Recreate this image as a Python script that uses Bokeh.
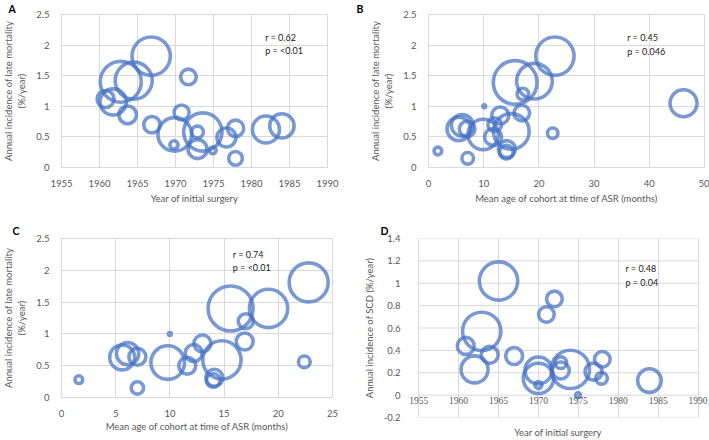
from bokeh.plotting import figure
from bokeh.models import (Range1d, FixedTicker, CustomJSTickFormatter, Label, LabelSet,
                          Title, ColumnDataSource)
from bokeh.layouts import column, row
from bokeh.embed import file_html
from bokeh.resources import INLINE
import numpy as np

# ---------------- data ----------------
# Panel A: year of initial surgery vs annual incidence of late mortality
a_year = [1960.8, 1961.8, 1962.8, 1964.5, 1963.7, 1966.8, 1966.9, 1971.7, 1969.9, 1969.8,
          1970.8, 1973.6, 1972.9, 1972.9, 1974.9, 1976.7, 1977.9, 1977.9, 1981.9, 1984.0]
a_mort = [1.12, 1.07, 1.40, 1.42, 0.86, 1.82, 0.70, 1.48, 0.54, 0.37,
          0.90, 0.58, 0.58, 0.30, 0.28, 0.49, 0.64, 0.15, 0.62, 0.68]
a_size = [72, 173, 420, 342, 78, 367, 67, 61, 283, 17,
          56, 367, 34, 90, 12, 90, 67, 47, 182, 148]

# Panel B: mean age at ASR (months) vs annual incidence of late mortality
b_age = [1.7, 5.5, 6.1, 7.0, 7.1, 10.1, 9.9, 11.7, 12.0, 13.0,
         14.2, 14.1, 15.0, 15.7, 16.9, 17.1, 19.2, 22.5, 22.9, 46.2]
b_mort = [0.27, 0.63, 0.69, 0.63, 0.15, 1.00, 0.54, 0.50, 0.70, 0.85,
          0.30, 0.25, 0.59, 1.39, 0.89, 1.20, 1.41, 0.56, 1.82, 1.05]
b_size = [15, 140, 117, 61, 34, 2, 230, 72, 47, 72,
          72, 47, 318, 477, 61, 34, 318, 27, 367, 182]

# Panel C: mean age at ASR (months) vs annual incidence of late mortality
c_age = [1.6, 5.6, 6.1, 7.0, 7.0, 10.0, 9.8, 11.6, 12.2, 13.0,
         14.1, 14.0, 14.8, 15.6, 16.9, 17.0, 19.1, 22.4, 22.8]
c_mort = [0.28, 0.63, 0.69, 0.64, 0.15, 1.00, 0.55, 0.50, 0.70, 0.85,
          0.31, 0.27, 0.59, 1.40, 0.88, 1.20, 1.40, 0.56, 1.81]
c_size = [15, 156, 125, 72, 38, 2, 283, 72, 72, 72,
          72, 47, 367, 506, 72, 56, 367, 34, 380]

# Panel D: year of initial surgery vs annual incidence of SCD
d_year = [1960.9, 1962.0, 1962.9, 1963.9, 1965.0, 1966.96, 1970.0, 1970.0, 1970.0, 1971.0,
          1972.0, 1972.8, 1972.8, 1974.0, 1974.96, 1976.9, 1978.0, 1977.9, 1983.9]
d_scd = [0.44, 0.23, 0.57, 0.36, 1.02, 0.35, 0.22, 0.15, 0.09, 0.72,
         0.86, 0.29, 0.22, 0.23, 0.00, 0.21, 0.32, 0.15, 0.13]
d_size = [72, 182, 367, 72, 367, 72, 182, 230, 12, 61,
          61, 34, 72, 367, 6, 72, 61, 34, 140]

year_ticks = [1955, 1960, 1965, 1970, 1975, 1980, 1985, 1990]
year_labels = ["1955", "1960", "1965", "1970", "1975", "1980", "1985", "1990"]
age_ticks_b = [0, 10, 20, 30, 40, 50]
age_ticks_c = [0, 5, 10, 15, 20, 25]
mort_ticks = [0, 0.5, 1, 1.5, 2, 2.5]
scd_ticks = [-0.2, 0, 0.2, 0.4, 0.6, 0.8, 1, 1.2, 1.4]

stats = {"A": "r = 0.62\np = <0.01", "B": "r = 0.45\np = 0.046",
         "C": "r = 0.74\np = <0.01", "D": "r = 0.48\np = 0.04"}

# ---------------- style ----------------
FONT = "Lato"
GRID = "#D9D9D9"
TXT = "#595959"
BUBBLE = "#4472C4"
FS = "9.5px"

fmt = CustomJSTickFormatter(code="return tick.toString();")


def style_axis(ax):
    ax.formatter = fmt
    ax.axis_line_color = GRID
    ax.major_tick_line_color = None
    ax.minor_tick_line_color = None
    ax.major_label_text_font = FONT
    ax.major_label_text_font_size = FS
    ax.major_label_text_color = TXT
    ax.axis_label_text_font = FONT
    ax.axis_label_text_font_size = FS
    ax.axis_label_text_font_style = "normal"
    ax.axis_label_text_color = TXT


def make(w, h, xr, yr, xt, yt, xlabel, ylabel, borders):
    l, r, t, b = borders
    p = figure(width=w, height=h, x_range=Range1d(*xr), y_range=Range1d(*yr),
               output_backend="svg", toolbar_location=None,
               min_border_left=l, min_border_right=r, min_border_top=t, min_border_bottom=b)
    p.background_fill_color = "white"
    p.border_fill_color = "white"
    p.outline_line_color = GRID
    p.xgrid.ticker = FixedTicker(ticks=xt)
    p.ygrid.ticker = FixedTicker(ticks=yt)
    p.grid.grid_line_color = GRID
    p.grid.grid_line_width = 1
    p.xaxis.ticker = FixedTicker(ticks=xt)
    p.yaxis.ticker = FixedTicker(ticks=yt)
    style_axis(p.xaxis[0])
    style_axis(p.yaxis[0])
    p.xaxis.axis_label = xlabel
    p.yaxis.axis_label = ylabel
    p.xaxis.major_label_standoff = 6
    p.xaxis.axis_label_standoff = 3
    p.yaxis.major_label_standoff = 6
    p.yaxis.axis_label_standoff = 6
    return p


def bubbles(p, xs, ys, ss):
    diam = [2 * np.sqrt(s) for s in ss]
    p.scatter(xs, ys, size=diam, marker="circle", fill_color=None,
              line_color=BUBBLE, line_alpha=0.72, line_width=3.6)


def annotate(p, letter, loff, lstand, sx, sy):
    p.add_layout(Title(text=letter, align="left", offset=loff, standoff=lstand,
                       text_font=FONT, text_font_style="bold", text_font_size="10.5px",
                       text_color="black"), "above")
    p.add_layout(Label(x=sx, y=sy, text=stats[letter], text_font=FONT,
                       text_font_size="9px", text_color="#1a1a1a",
                       text_baseline="top", text_align="left", text_line_height=1.25))


mort_label = "Annual incidence of late mortality\n(%/year)"

pa = make(354, 220, (1955, 1990), (0, 2.5), year_ticks, mort_ticks,
          "Year of initial surgery", mort_label, (54, 27, 10, 53))
bubbles(pa, a_year, a_mort, a_size)
annotate(pa, "A", -53, 0, 1981.8, 2.22)

pb = make(355, 220, (0, 50), (0, 2.5), age_ticks_b, mort_ticks,
          "Mean age of cohort at time of ASR (months)", mort_label, (74, 5, 12, 53))
bubbles(pb, b_age, b_mort, b_size)
annotate(pb, "B", -72, 0, 36.0, 2.21)

pc = make(354, 220, (0, 25), (0, 2.5), age_ticks_c, mort_ticks,
          "Mean age of cohort at time of ASR (months)", mort_label, (51, 22, 17, 43))
pc.xaxis.axis_label_standoff = 1
bubbles(pc, c_age, c_mort, c_size)
annotate(pc, "C", -49, 4, 15.8, 2.34)

# Panel D: horizontal axis crosses at y = 0; frame slightly wider so the end labels show
pd_ = make(355, 220, (1953.6, 1991.3), (-0.2, 1.4), year_ticks, scd_ticks,
           "Year of initial surgery", "Annual incidence of SCD (%/year)", (53, 1, 17, 21))
pd_.xaxis.ticker = FixedTicker(ticks=[])
pd_.xaxis.axis_line_color = None
pd_.xaxis.major_label_standoff = 0
pd_.xaxis.major_tick_out = 0
pd_.xaxis.axis_label_standoff = 9
pd_.outline_line_color = None
pd_.yaxis.axis_line_color = None
pd_.yaxis.major_label_standoff = 1
pd_.ygrid.grid_line_color = None
pd_.segment(x0=[year_ticks[0]] * len(scd_ticks), x1=[year_ticks[-1]] * len(scd_ticks),
            y0=scd_ticks, y1=scd_ticks, line_color=GRID, line_width=1)
tick_src = ColumnDataSource(dict(x=year_ticks, y=[0] * len(year_ticks), t=year_labels))
pd_.add_layout(LabelSet(x="x", y="y", text="t", source=tick_src, y_offset=-2,
                        text_font=FONT, text_font_size=FS, text_color=TXT,
                        text_align="center", text_baseline="top"))
bubbles(pd_, d_year, d_scd, d_size)
annotate(pd_, "D", -27, 4, 1980.9, 1.18)

# each plot wrapped on its own so that neighbouring frames are not aligned to each other
layout = column(row(column(pa), column(pb)), row(column(pc), column(pd_)))

open("out.html", "w").write(file_html(layout, INLINE))
